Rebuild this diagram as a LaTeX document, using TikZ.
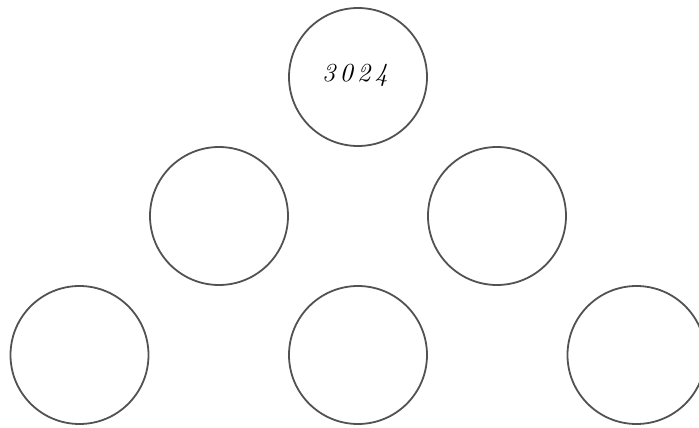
\documentclass[tikz,border=0pt]{standalone}
\usepackage{fontspec}
\begin{document}
\begin{tikzpicture}[x=1pt,y=-1pt,
  ball/.style={circle,draw=black!68,line width=1.8pt,minimum size=138pt,inner sep=0pt,fill=white}]
\useasboundingbox (0,0) rectangle (699,428);
\node[ball] (t) at (358,77) {};
\node[ball] (ml) at (219,216) {};
\node[ball] (mr) at (497,216) {};
\node[ball] (bl) at (79.5,355) {};
\node[ball] (bm) at (358,355) {};
\node[ball] (br) at (636.5,355) {};
\node[font=\itshape,inner sep=0pt,scale=2.6] (lbl) at (355,75) {3\hspace{1.6pt}0\hspace{1.6pt}2\hspace{1.6pt}4};
\end{tikzpicture}
\end{document}
